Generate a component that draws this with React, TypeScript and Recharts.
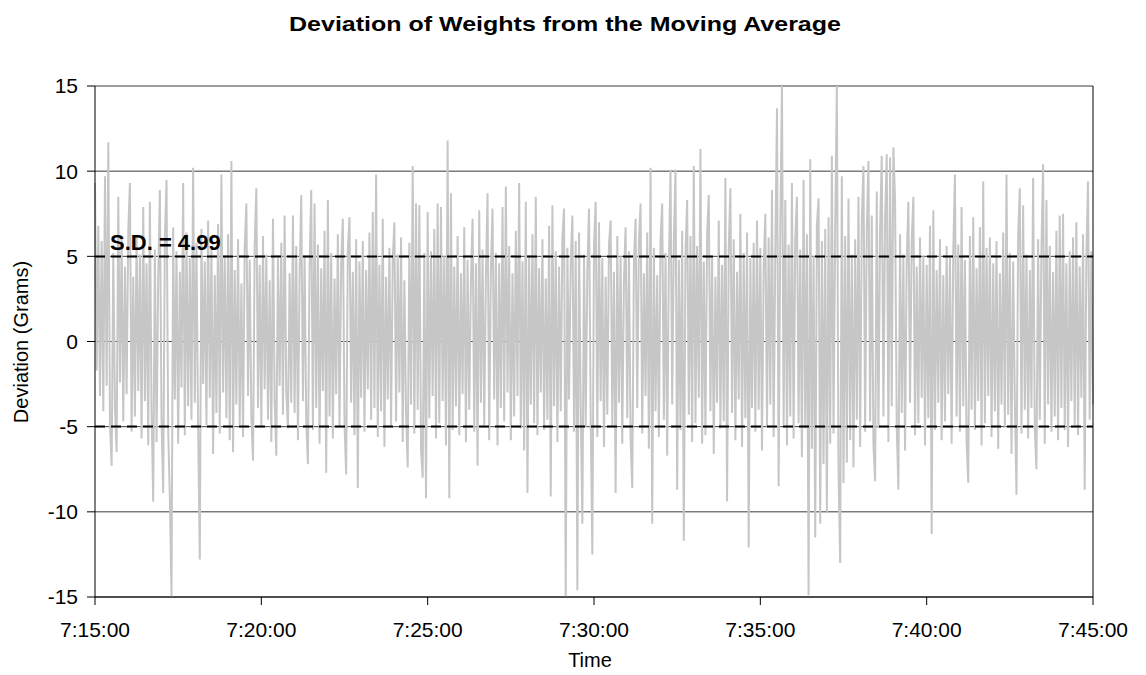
import { LineChart, Line, XAxis, YAxis, CartesianGrid, ReferenceLine } from 'recharts'

// one reading every 3 seconds, 7:15:00 to 7:45:00
const SAMPLE_SECONDS = 3

const deviation = [
    9.3, -1.7, 6.8, -3.2, 5.9, -4.1, 9.7, -2.6, 11.7, -4.8, -7.3, 5.2, -3.9, -6.5, 8.5, -2.4, 6.1, -4.7, 4.4, -3.1,
    6.5, 9.3, -5.3, 3.8, -4.4, 6.2, -2.9, 5.1, -5.7, 7.9, -3.5, 4.6, -6.1, 8.2, -4.0, -9.4, 5.4, -5.9, 3.7, 8.9,
    -4.6, -8.9, 6.0, 9.5, -5.2, -9.2, -15.0, 6.7, -3.4, 5.3, -6.0, 4.1, -2.7, 9.3, -5.5, 6.4, -3.8, 4.9, -4.6, 10.2,
    -3.6, 5.8, -5.1, -12.8, 6.6, -2.5, 4.7, -4.9, 7.1, -3.3, 5.6, -6.6, 3.9, -4.2, 6.9, -5.4, 9.8, -3.0, 5.0, -4.5,
    6.3, -5.8, 10.6, -6.5, 4.2, -3.7, 6.0, -4.9, 3.4, -5.6, 5.5, 8.1, -3.2, 4.8, -4.4, -7.0, 5.7, 9.0, -3.9, 4.5,
    -5.0, 6.2, -2.8, 5.1, -4.6, 3.6, -5.9, 7.2, -3.4, -6.7, 4.9, -2.6, 5.8, -4.3, 7.4, -3.0, -5.1, 4.0, -3.6, 7.4,
    -4.2, 5.6, -5.8, 3.9, 8.6, -3.5, 5.0, -4.7, -7.2, 4.4, 8.9, -5.2, 8.1, -3.9, 5.7, -6.0, 4.3, -2.9, 6.5, -7.7,
    8.3, -4.4, 5.2, -5.7, 3.7, -3.1, 6.3, -5.0, 4.6, 7.2, -4.8, -7.8, 5.4, 7.3, -3.6, 4.1, -5.5, 6.0, -8.6, 4.7,
    -3.3, 5.9, -5.3, 4.2, -2.8, 6.4, -4.6, 7.6, -3.9, 9.8, -5.6, 4.5, -4.1, 7.2, -6.2, 3.8, -3.4, 5.5, -5.0, 4.8,
    7.0, -4.7, 5.1, -3.0, 6.1, -5.9, 3.6, -4.2, -7.4, 5.8, -3.7, 10.3, -5.4, 8.1, -4.0, 8.0, -6.3, -8.0, 5.2, -9.2,
    7.6, -4.5, 5.3, -3.2, 6.6, -5.7, 8.1, -4.8, 7.9, -3.5, 5.0, -6.1, 11.8, -9.2, 8.7, -5.2, 4.4, -3.8, 6.2, -5.5,
    4.0, -3.1, 6.7, -5.9, 4.8, -4.0, 3.5, 7.2, -5.3, 4.6, -7.3, 7.7, -3.6, 5.4, -4.9, 3.8, 8.7, -5.8, 4.2, 7.8,
    -3.4, 5.2, -6.1, 4.6, -3.9, 7.9, -4.7, 9.1, -3.0, 5.6, -5.8, 4.0, -4.4, 6.5, -3.2, 9.3, -5.1, 4.7, -6.4, 8.2,
    -8.9, 5.0, -3.7, 6.3, -4.8, 8.5, -5.5, 4.3, -3.0, 6.0, -5.2, 3.7, -4.6, 6.8, -9.1, 8.0, -3.8, 5.3, -5.9, 4.4,
    -4.1, 6.1, 7.8, -15.0, 5.5, -3.4, 4.6, 7.4, -5.3, 5.9, -14.6, 6.4, -3.8, -10.7, 5.1, -5.0, 4.2, 7.8, -4.4, -12.5,
    5.6, 8.2, -5.6, 7.0, -3.5, 4.9, -6.2, 3.8, -4.3, 5.7, 7.1, -5.0, 4.1, -8.9, 6.2, -3.6, 5.0, -6.0, 3.6, 6.7,
    -4.5, 5.3, -5.7, -8.6, 4.6, 7.2, -3.9, 5.8, 8.1, -5.4, 4.0, -3.2, 6.4, -6.3, 10.2, -10.7, 5.5, -4.1, 3.9, -5.6,
    6.0, 8.1, -4.6, 5.2, -6.7, 4.4, 10.1, -3.7, 5.9, 10.1, -8.7, 4.8, -5.2, 6.5, -11.7, 5.1, 8.3, -4.3, 6.2, -5.9,
    10.3, -4.8, 5.6, -3.3, 11.3, -6.0, 4.7, -5.5, 6.3, 8.6, -4.1, 5.0, -6.6, 3.8, -3.6, 7.1, -5.1, 4.5, -4.7, 9.6,
    -9.4, 5.4, 9.0, -4.2, 6.0, -5.8, 4.1, -3.4, 7.5, -6.2, 5.2, -4.5, 6.4, -12.1, 4.9, -3.9, 5.8, -5.3, 7.1, -4.0,
    5.5, -6.4, 4.3, 7.5, -5.0, 6.1, -3.7, 8.9, -5.6, 5.3, 13.7, -8.5, 6.6, 15.0, -4.9, 8.3, -6.1, 5.7, -4.4, 9.3,
    -5.7, 6.0, 8.5, -4.8, 5.4, -6.8, 9.5, -5.1, 6.3, -14.9, 10.7, -6.3, 5.0, -11.5, 6.8, 8.4, -10.7, 5.9, -7.2, 6.6,
    -10.0, 7.3, -6.0, 10.9, -5.4, 6.7, 15.0, -7.6, -13.0, 9.7, -8.3, 6.2, -7.1, 8.4, -5.8, 5.1, -7.4, 6.0, -4.6, 8.5,
    -6.2, 7.1, 10.3, -5.3, 6.5, 10.6, -4.7, 7.4, -6.0, -8.2, 8.8, -5.1, 6.6, 10.9, -4.4, 7.2, 11.0, -5.9, 10.8, -3.8,
    11.4, 8.3, -5.0, -8.7, 6.3, -4.2, 5.1, -6.4, 4.7, 8.2, -3.6, 5.9, 8.5, -5.5, 4.4, -4.8, 6.1, -3.3, 5.0, -6.1,
    4.5, -4.5, 6.8, -11.3, 7.7, -5.2, 4.2, -3.6, 6.0, -5.8, 3.9, -4.7, 5.6, -3.1, 4.9, -6.0, 5.3, 9.8, -4.4, 5.7,
    -5.3, 7.9, -3.8, 4.8, -5.9, -8.3, 6.2, -4.0, 7.3, -5.2, 4.3, -3.5, 6.7, -6.1, 9.4, -4.8, 5.5, -3.2, 6.1, -5.6,
    4.6, -4.1, 5.9, -6.3, 4.0, -3.7, 6.4, -5.0, 9.8, -4.3, 5.2, -6.6, 4.7, -3.4, -9.0, 6.3, 9.0, -5.4, 8.0, -4.0,
    5.1, -5.7, 4.2, -3.9, 9.6, -5.1, -7.5, 6.0, -4.6, 5.4, 10.4, -6.0, 8.3, -3.7, 5.6, -5.3, 4.1, -4.4, 6.5, -5.8,
    7.4, -3.9, 7.5, -5.2, 4.6, -6.2, 5.3, -3.5, 6.1, -4.9, 7.0, -5.5, 4.4, -3.3, 6.3, -8.7, 5.0, 9.4, -4.6, 5.3,
    -3.7,
]

const timeTicks = [0, 300, 600, 900, 1200, 1500, 1800]
const timeLabels = ['7:15:00', '7:20:00', '7:25:00', '7:30:00', '7:35:00', '7:40:00', '7:45:00']
const deviationTicks = [-15, -10, -5, 0, 5, 10, 15]
const SD = 4.99

const data = deviation.map((v, i) => ({ t: i * SAMPLE_SECONDS, v }))

const FONT = '"Liberation Sans", Arial, sans-serif'

const SdLabel = ({ viewBox }: any) => (
    <text x={viewBox.x + 15} y={viewBox.y - 7} fontFamily={FONT} fontSize={22} fontWeight="bold" fill="#000">
        S.D. = {SD}
    </text>
)

export default function App() {
    return (
        <div style={{ position: 'relative', width: 1130, height: 659, fontFamily: FONT, background: '#fff' }}>
            <div
                style={{
                    position: 'absolute', left: -8, width: 1130, top: 2, textAlign: 'center',
                    fontSize: 25, fontWeight: 'bold', transform: 'scaleY(0.8)',
                }}
            >
                Deviation of Weights from the Moving Average
            </div>
            <LineChart width={1130} height={659} data={data} margin={{ top: 78, right: 45, bottom: 30, left: 0 }}>
                <CartesianGrid horizontal vertical={false} stroke="#3a3a3a" strokeWidth={1} />
                <XAxis
                    dataKey="t"
                    type="number"
                    domain={[0, 1800]}
                    ticks={timeTicks}
                    tickFormatter={(s: number) => timeLabels[timeTicks.indexOf(s)]}
                    height={40}
                    tickSize={8}
                    tickMargin={17}
                    stroke="#000"
                    tick={{ fill: '#000', fontSize: 21, fontFamily: FONT }}
                />
                <YAxis
                    type="number"
                    domain={[-15, 15]}
                    ticks={deviationTicks}
                    width={87}
                    tickSize={8}
                    tickMargin={9}
                    stroke="#000"
                    tick={{ fill: '#000', fontSize: 21, fontFamily: FONT }}
                    allowDataOverflow
                />
                <Line type="linear" dataKey="v" stroke="#c6c6c6" strokeWidth={2} dot={false} isAnimationActive={false} />
                <ReferenceLine y={SD} stroke="#000" strokeWidth={2} strokeDasharray="10 6" label={<SdLabel />} />
                <ReferenceLine y={-SD} stroke="#000" strokeWidth={2} strokeDasharray="10 6" />
                <ReferenceLine x={1800} stroke="#000" strokeWidth={1} />
            </LineChart>
            <div style={{ position: 'absolute', left: 13, top: 334, width: 0, height: 0 }}>
                <div style={{ transform: 'translate(-50%, -50%) rotate(-90deg)', whiteSpace: 'nowrap', fontSize: 20, position: 'absolute', left: 0, top: 0 }}>
                    Deviation (Grams)
                </div>
            </div>
            <div style={{ position: 'absolute', left: 17, width: 1130, top: 641, textAlign: 'center', fontSize: 20 }}>
                Time
            </div>
        </div>
    )
}
